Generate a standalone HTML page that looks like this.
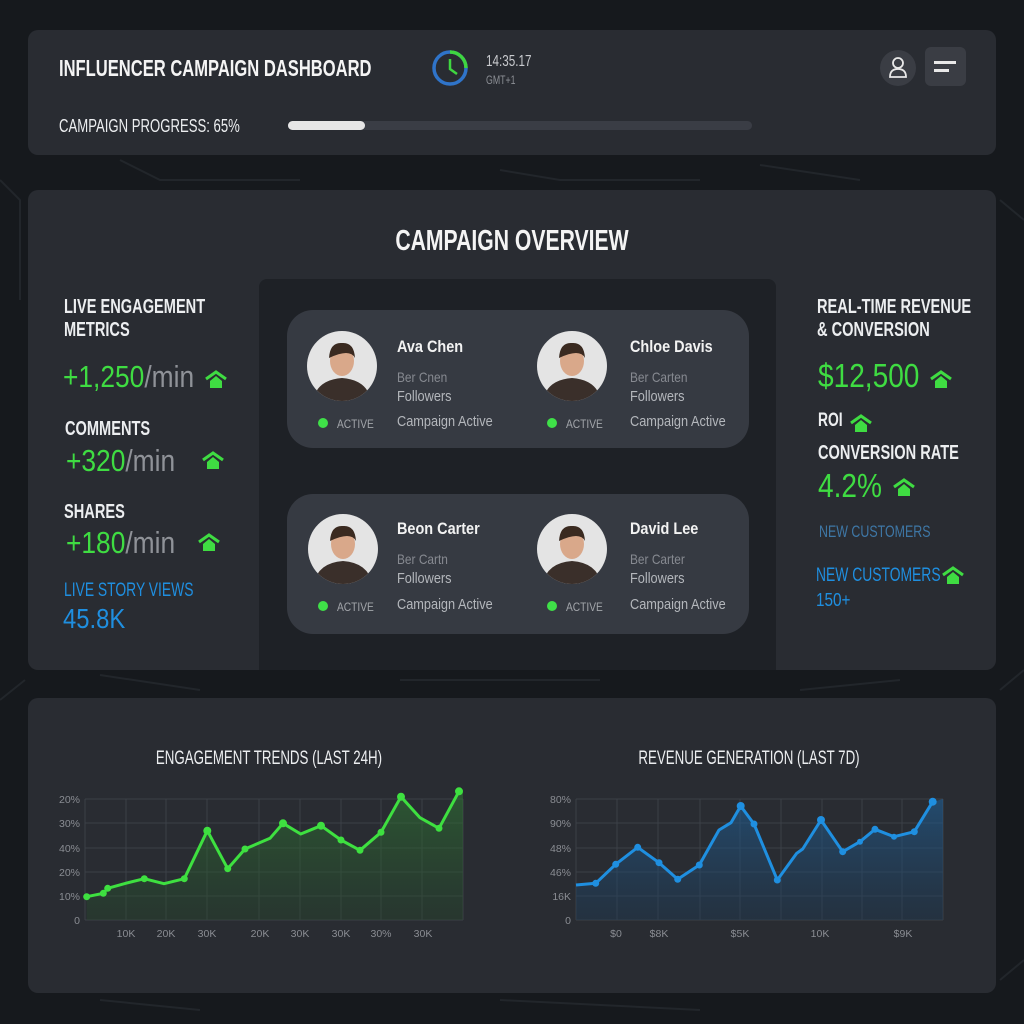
<!DOCTYPE html>
<html><head><meta charset="utf-8"><style>
*{margin:0;padding:0;box-sizing:border-box}
body{width:1024px;height:1024px;background:#16191d;position:relative;overflow:hidden;font-family:"Liberation Sans",sans-serif;color:#eceef0}
.a{position:absolute;white-space:nowrap}
.n{transform:scaleX(.73);transform-origin:0 0}
.nn{transform:scaleX(.85);transform-origin:0 0}
.np{transform:scaleX(.85);transform-origin:0 0}
.nc{transform:scaleX(.73);transform-origin:50% 0}
.card{position:absolute;background:#292c32;border-radius:10px}
.b{font-weight:bold}
.g{color:#3fdc42}
.m{color:#8f9298;font-weight:normal}
.bl{color:#1f8fe0}
.pc{position:absolute;background:#363a42;border-radius:26px}
.nm{font-size:17px;font-weight:bold;color:#f2f2f2}
.s1{font-size:14px;color:#878a91}
.s2{font-size:15px;color:#b4b7bc}
.dot{position:absolute;width:10px;height:10px;border-radius:50%;background:#3fe048}
.act{font-size:12px;color:#a3a6ab}
</style></head><body>
<svg class="a" style="left:0;top:0" width="1024" height="1024">
<g stroke="#22262b" stroke-width="2" fill="none">
<path d="M0 180 L20 200 L20 300"/><path d="M1000 200 L1024 220"/><path d="M0 700 L25 680"/><path d="M1000 690 L1024 670 M1000 980 L1024 960"/><path d="M120 160 L160 180 L300 180 M500 170 L560 180 L700 180 M760 165 L860 180"/><path d="M100 675 L200 690 M400 680 L600 680 M800 690 L900 680"/><path d="M100 1000 L200 1010 M500 1000 L700 1010"/>
</g></svg>

<div class="card" style="left:28px;top:30px;width:968px;height:125px"></div>
<div class="a b n" style="left:59px;top:55px;font-size:23px;color:#f4f4f4;transform:scaleX(.72)">INFLUENCER CAMPAIGN DASHBOARD</div>
<svg class="a" style="left:431px;top:49px" width="40" height="40"><circle cx="19" cy="19" r="16" fill="none" stroke="#2f74c9" stroke-width="3.5"/><path d="M19 3 A16 16 0 0 1 35 19" fill="none" stroke="#3fd640" stroke-width="3.5"/><path d="M19 10 L19 20 L26 25" stroke="#3fd640" stroke-width="2.5" fill="none"/></svg>
<div class="a n" style="left:486px;top:53px;font-size:16px;color:#c9cbcf">14:35.17</div>
<div class="a n" style="left:486px;top:73px;font-size:12px;color:#8d9096">GMT+1</div>
<div class="a" style="left:880px;top:50px;width:36px;height:36px;border-radius:50%;background:#3a3d44"></div>
<svg class="a" style="left:880px;top:50px" width="36" height="36"><circle cx="18" cy="13" r="5" fill="none" stroke="#e8e8e8" stroke-width="1.8"/><path d="M10 27 Q10 19 18 19 Q26 19 26 27 Z" fill="none" stroke="#e8e8e8" stroke-width="1.8"/></svg>
<div class="a" style="left:925px;top:47px;width:41px;height:39px;border-radius:6px;background:#3a3d44"></div>
<div class="a" style="left:934px;top:61px;width:22px;height:3px;background:#e8e8e8"></div>
<div class="a" style="left:934px;top:69px;width:15px;height:3px;background:#e8e8e8"></div>
<div class="a n" style="left:59px;top:116px;font-size:18px;color:#eceef0">CAMPAIGN PROGRESS: 65%</div>
<div class="a" style="left:288px;top:121px;width:464px;height:9px;border-radius:5px;background:#3a3d45"></div>
<div class="a" style="left:288px;top:121px;width:77px;height:9px;border-radius:5px;background:#e6e6e6"></div>

<div class="card" style="left:28px;top:190px;width:968px;height:480px"></div>
<div class="a" style="left:259px;top:279px;width:517px;height:391px;background:#1e2126;border-radius:8px 8px 0 0"></div>
<div class="a b nc" style="left:0;width:1024px;text-align:center;top:225px;font-size:29px;color:#f4f4f4">CAMPAIGN OVERVIEW</div>

<div class="a b n" style="left:64px;top:296px;font-size:20px;line-height:23px">LIVE ENGAGEMENT<br>METRICS</div>
<div class="a g nn" style="left:63px;top:359px;font-size:31px">+1,250<span class="m">/min</span></div>
<div class="a b n" style="left:65px;top:418px;font-size:20px">COMMENTS</div>
<div class="a g nn" style="left:66px;top:443px;font-size:31px">+320<span class="m">/min</span></div>
<div class="a b n" style="left:64px;top:501px;font-size:20px">SHARES</div>
<div class="a g nn" style="left:66px;top:525px;font-size:31px">+180<span class="m">/min</span></div>
<div class="a bl n" style="left:64px;top:580px;font-size:19px">LIVE STORY VIEWS</div>
<div class="a bl nn" style="left:63px;top:603px;font-size:28px">45.8K</div>

<div class="a b n" style="left:817px;top:296px;font-size:20px;line-height:23px">REAL-TIME REVENUE<br>&amp; CONVERSION</div>
<div class="a g nn" style="left:818px;top:357px;font-size:33px">$12,500</div>
<div class="a b n" style="left:818px;top:410px;font-size:19px">ROI</div>
<div class="a b n" style="left:818px;top:442px;font-size:20px">CONVERSION RATE</div>
<div class="a g nn" style="left:818px;top:467px;font-size:33px">4.2%</div>
<div class="a n" style="left:819px;top:522px;font-size:17px;color:#3e77a6">NEW CUSTOMERS</div>
<div class="a bl n" style="left:816px;top:565px;font-size:19px">NEW CUSTOMERS</div>
<div class="a bl nn" style="left:816px;top:590px;font-size:18px">150+</div>

<svg class="a" style="left:0;top:0" width="1024" height="1024" fill="#3fdc42">
<defs><g id="ar"><path d="M-10 -1 L0 -8 L10 -1" fill="none" stroke="#3fdc42" stroke-width="3"/><path d="M-6 1 L0 -4 L6 1 L6 8 L-6 8 Z"/></g></defs>
<use href="#ar" x="216" y="380"/><use href="#ar" x="213" y="461"/><use href="#ar" x="209" y="543"/>
<use href="#ar" x="941" y="380"/><use href="#ar" x="861" y="424"/><use href="#ar" x="904" y="488"/><use href="#ar" x="953" y="576"/>
</svg>

<div class="pc" style="left:287px;top:310px;width:462px;height:138px"></div>
<div class="pc" style="left:287px;top:494px;width:462px;height:140px"></div>

<svg class="a" style="left:0;top:0" width="1024" height="1024">
<defs>
<clipPath id="c1"><circle cx="0" cy="0" r="35"/></clipPath>
<g id="av"><circle r="35" fill="#e4e4e4"/><g clip-path="url(#c1)"><path d="M-30 40 Q-28 14 0 12 Q28 14 30 40 Z" fill="#3a2f2a"/><ellipse cx="0" cy="-5" rx="12" ry="15" fill="#d9a88a"/><path d="M-13 -8 Q-12 -24 0 -23 Q12 -24 13 -8 Q8 -18 -13 -8" fill="#3a2a20"/></g></g>
</defs>
<use href="#av" x="342" y="366"/><use href="#av" x="572" y="366"/><use href="#av" x="343" y="549"/><use href="#av" x="572" y="549"/>
</svg>
<div class="a nm np" style="left:397px;top:337px">Ava Chen</div>
<div class="a s1 np" style="left:397px;top:369px">Ber Cnen</div>
<div class="a s2 np" style="left:397px;top:388px">Followers</div>
<div class="a s2 np" style="left:397px;top:413px">Campaign Active</div>
<div class="dot" style="left:318px;top:418px"></div><div class="a act np" style="left:337px;top:417px">ACTIVE</div>
<div class="a nm np" style="left:630px;top:337px">Chloe Davis</div>
<div class="a s1 np" style="left:630px;top:369px">Ber Carten</div>
<div class="a s2 np" style="left:630px;top:388px">Followers</div>
<div class="a s2 np" style="left:630px;top:413px">Campaign Active</div>
<div class="dot" style="left:547px;top:418px"></div><div class="a act np" style="left:566px;top:417px">ACTIVE</div>
<div class="a nm np" style="left:397px;top:519px">Beon Carter</div>
<div class="a s1 np" style="left:397px;top:551px">Ber Cartn</div>
<div class="a s2 np" style="left:397px;top:570px">Followers</div>
<div class="a s2 np" style="left:397px;top:596px">Campaign Active</div>
<div class="dot" style="left:318px;top:601px"></div><div class="a act np" style="left:337px;top:600px">ACTIVE</div>
<div class="a nm np" style="left:630px;top:519px">David Lee</div>
<div class="a s1 np" style="left:630px;top:551px">Ber Carter</div>
<div class="a s2 np" style="left:630px;top:570px">Followers</div>
<div class="a s2 np" style="left:630px;top:596px">Campaign Active</div>
<div class="dot" style="left:547px;top:601px"></div><div class="a act np" style="left:566px;top:600px">ACTIVE</div>

<div class="card" style="left:28px;top:698px;width:968px;height:295px"></div>
<div class="a nc" style="left:69px;width:400px;text-align:center;top:748px;font-size:19px;transform:scaleX(.7)">ENGAGEMENT TRENDS (LAST 24H)</div>
<div class="a nc" style="left:549px;width:400px;text-align:center;top:748px;font-size:19px;transform:scaleX(.7)">REVENUE GENERATION (LAST 7D)</div>

<svg class="a" style="left:0;top:0" width="1024" height="1024" font-family="Liberation Sans, sans-serif" font-size="10.5" fill="#8a8d93">
<defs>
<linearGradient id="gg" x1="0" y1="0" x2="0" y2="1"><stop offset="0" stop-color="#2f7a33" stop-opacity=".55"/><stop offset="1" stop-color="#254a2a" stop-opacity=".35"/></linearGradient>
<linearGradient id="gb" x1="0" y1="0" x2="0" y2="1"><stop offset="0" stop-color="#1f5f96" stop-opacity=".6"/><stop offset="1" stop-color="#1e3a55" stop-opacity=".4"/></linearGradient>
</defs>
<g stroke="#3c4047" stroke-width="1">
<path d="M85 799H463M85 823H463M85 848H463M85 872H463M85 896H463M85 920H463M85 799V920M463 799V920M126 799V920M166 799V920M207 799V920M259 799V920M300 799V920M341 799V920M381 799V920M422 799V920"/>
<path d="M576 799H943M576 823H943M576 848H943M576 872H943M576 896H943M576 920H943M576 799V920M943 799V920M617 799V920M658 799V920M700 799V920M740 799V920M781 799V920M822 799V920M862 799V920M902 799V920"/>
</g>
<path d="M86.7 896.7L103.3 893.3L107.7 888.3L125.7 883.3L144.3 878.7L164 883.7L184.3 878.7L207.3 830.7L227.7 868.7L245 849L270 838.3L283 823.3L300.7 834L321 825.7L341 840L360 850.3L381 832.3L401 796.7L420 817.7L439 828.3L459 791.3L463 791.3L463 920L86.7 920Z" fill="url(#gg)"/>
<path d="M86.7 896.7L103.3 893.3L107.7 888.3L125.7 883.3L144.3 878.7L164 883.7L184.3 878.7L207.3 830.7L227.7 868.7L245 849L270 838.3L283 823.3L300.7 834L321 825.7L341 840L360 850.3L381 832.3L401 796.7L420 817.7L439 828.3L459 791.3" fill="none" stroke="#3ee040" stroke-width="3" stroke-linejoin="round"/>
<g fill="#3ee040"><circle cx="86.7" cy="896.7" r="3.5"/><circle cx="103.3" cy="893.3" r="3.5"/><circle cx="107.7" cy="888.3" r="3.5"/><circle cx="144.3" cy="878.7" r="3.5"/><circle cx="184.3" cy="878.7" r="3.5"/><circle cx="207.3" cy="830.7" r="4"/><circle cx="227.7" cy="868.7" r="3.5"/><circle cx="245" cy="849" r="3.5"/><circle cx="283" cy="823.3" r="4"/><circle cx="321" cy="825.7" r="4"/><circle cx="341" cy="840" r="3.5"/><circle cx="360" cy="850.3" r="3.5"/><circle cx="381" cy="832.3" r="3.5"/><circle cx="401" cy="796.7" r="4"/><circle cx="439" cy="828.3" r="3.5"/><circle cx="459" cy="791.3" r="4"/></g>
<path d="M576 885L595.7 883.3L615.7 864.3L637.7 847.3L659 862.7L677.7 879.3L699.3 865L719 830L731 822.7L740.7 806L754 824L777.3 880L796.7 853.3L802.7 849L821 820L842.7 851.7L860 841.7L875 829.3L894 836.7L914.3 831.7L932.7 801.7L943 799L943 920L576 920Z" fill="url(#gb)"/>
<path d="M576 885L595.7 883.3L615.7 864.3L637.7 847.3L659 862.7L677.7 879.3L699.3 865L719 830L731 822.7L740.7 806L754 824L777.3 880L796.7 853.3L802.7 849L821 820L842.7 851.7L860 841.7L875 829.3L894 836.7L914.3 831.7L932.7 801.7" fill="none" stroke="#1f8fe0" stroke-width="3" stroke-linejoin="round"/>
<g fill="#1f8fe0"><circle cx="595.7" cy="883.3" r="3.5"/><circle cx="615.7" cy="864.3" r="3.5"/><circle cx="637.7" cy="847.3" r="3.5"/><circle cx="659" cy="862.7" r="3.5"/><circle cx="677.7" cy="879.3" r="3.5"/><circle cx="699.3" cy="865" r="3.5"/><circle cx="740.7" cy="806" r="4"/><circle cx="754" cy="824" r="3.5"/><circle cx="777.3" cy="880" r="3.5"/><circle cx="821" cy="820" r="4"/><circle cx="842.7" cy="851.7" r="3.5"/><circle cx="860" cy="841.7" r="3"/><circle cx="875" cy="829.3" r="3.5"/><circle cx="894" cy="836.7" r="3"/><circle cx="914.3" cy="831.7" r="3.5"/><circle cx="932.7" cy="801.7" r="4"/></g>
<g text-anchor="end"><text x="80" y="803">20%</text><text x="80" y="827">30%</text><text x="80" y="852">40%</text><text x="80" y="876">20%</text><text x="80" y="900">10%</text><text x="80" y="924">0</text>
<text x="571" y="803">80%</text><text x="571" y="827">90%</text><text x="571" y="852">48%</text><text x="571" y="876">46%</text><text x="571" y="900">16K</text><text x="571" y="924">0</text></g>
<g text-anchor="middle"><text x="126" y="937">10K</text><text x="166" y="937">20K</text><text x="207" y="937">30K</text><text x="260" y="937">20K</text><text x="300" y="937">30K</text><text x="341" y="937">30K</text><text x="381" y="937">30%</text><text x="423" y="937">30K</text>
<text x="616" y="937">$0</text><text x="659" y="937">$8K</text><text x="740" y="937">$5K</text><text x="820" y="937">10K</text><text x="903" y="937">$9K</text></g>
</svg>
</body></html>
